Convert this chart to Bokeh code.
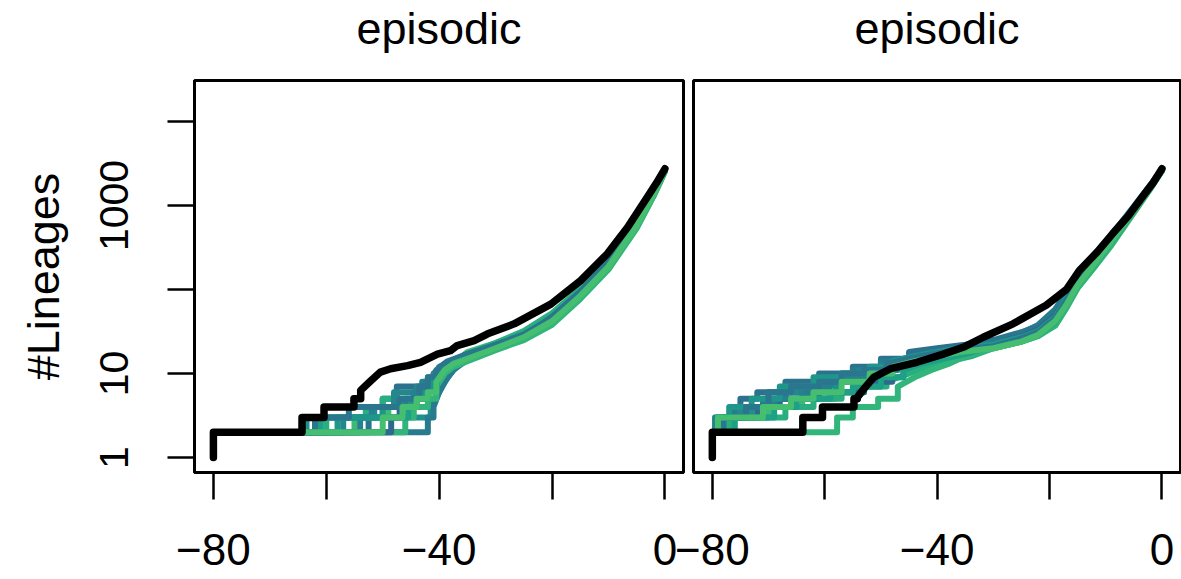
from bokeh.plotting import figure
from bokeh.layouts import row
from bokeh.models import FixedTicker
from bokeh.embed import file_html
from bokeh.resources import INLINE
from bokeh.palettes import Viridis256

# ---------------- data ----------------
panel_titles = ["episodic", "episodic"]
y_label = "#Lineages"
x_ticks = [-80, -60, -40, -20, 0]
x_tick_labels = ["\u221280", "", "\u221240", "", "0"]
y_ticks = [1, 10, 100, 1000, 10000]
y_tick_labels = ["1", "10", "", "1000", ""]

# left panel: observed (black) lineages-through-time
left_obs_t = [-80, -80, -64.3, -60.4, -55.1, -53.9, -52.1, -50.4, -48.6, -45.6, -43.3, -40.3, -38.0,
              -36.8, -33.8, -31.4, -26.7, -20.2, -14.9, -10.2, -6.6, -3.1, -1.5, 0]
left_obs_n = [1, 2, 3, 4, 5, 6.3, 8.2, 10.4, 11.4, 12.4, 13.6, 17, 18.7,
              21.5, 24.6, 29.7, 39, 67, 128, 266, 550, 1260, 1850, 2735]

# left panel: simulated lineages-through-time
left_sim_t = [
    [-80, -80, -52.5, -50, -47.5, -42, -40, -38, -35, -30, -25, -20, -15, -10, -5, -2, 0],
    [-80, -80, -63.5, -41.5, -40, -38.5, -37, -35, -30, -25, -20, -15, -10, -5, -2, 0],
    [-80, -80, -55, -49, -44, -42.5, -41, -39, -37, -35, -30, -25, -20, -15, -10, -5, -2, 0],
    [-80, -80, -42, -41, -40, -39, -37.5, -36, -35, -30, -25, -20, -15, -10, -5, -2, 0],
    [-80, -80, -60, -53, -50, -43, -41.5, -39.5, -37.5, -35, -30, -25, -20, -15, -10, -5, -2, 0],
    [-80, -80, -57, -51.5, -48, -44, -42, -40, -38, -35, -30, -25, -20, -15, -10, -5, -2, 0],
    [-80, -80, -46, -44.5, -42, -40.5, -39, -37.5, -35, -30, -25, -20, -15, -10, -5, -2, 0],
    [-80, -80, -48.5, -47, -45, -42, -40.5, -39, -37, -35, -30, -25, -20, -15, -10, -5, -2, 0],
    [-80, -80, -61, -45.5, -44, -42.5, -40.5, -38.5, -35, -30, -25, -20, -15, -10, -5, -2, 0],
    [-80, -80, -54, -52, -46, -44.5, -43, -41, -39, -35, -30, -25, -20, -15, -10, -5, -2, 0],
    [-80, -80, -58, -50, -45, -42.5, -41, -39.5, -38, -35, -30, -25, -20, -15, -10, -5, -2, 0],
    [-80, -80, -62, -56, -47, -43.5, -42, -40.5, -38.5, -35, -30, -25, -20, -15, -10, -5, -2, 0],
    [-80, -80, -50, -46.5, -44, -42, -40.5, -39, -37.5, -35, -30, -25, -20, -15, -10, -5, -2, 0],
]
left_sim_n = [
    [1, 2, 3, 5, 7, 8, 10, 13, 17, 22, 30, 46, 92, 205, 610, 1420, 2650],
    [1, 2, 3, 4, 6, 9, 12, 16, 21, 28, 42, 85, 190, 580, 1360, 2600],
    [1, 2, 3, 4, 5, 6, 8, 11, 14, 18, 23, 31, 49, 97, 220, 640, 1460, 2700],
    [1, 2, 3, 4, 6, 8, 11, 13, 15, 20, 26, 40, 80, 180, 550, 1310, 2550],
    [1, 2, 3, 4, 5, 6, 8, 11, 14, 17, 23, 32, 52, 102, 228, 655, 1490, 2700],
    [1, 2, 3, 4, 6, 7, 9, 12, 14, 16, 22, 29, 44, 88, 198, 595, 1390, 2620],
    [1, 2, 3, 4, 5, 7, 10, 12, 14, 19, 25, 38, 77, 173, 535, 1290, 2500],
    [1, 2, 3, 4, 5, 7, 9, 12, 15, 17, 21, 28, 47, 94, 208, 615, 1430, 2650],
    [1, 2, 3, 4, 5, 7, 10, 13, 15, 20, 27, 43, 86, 193, 585, 1370, 2600],
    [1, 2, 3, 4, 5, 6, 8, 10, 13, 16, 21, 29, 45, 90, 200, 605, 1410, 2640],
    [1, 2, 3, 4, 5, 6, 9, 12, 14, 16, 21, 28, 43, 87, 195, 590, 1380, 2620],
    [1, 2, 3, 4, 5, 7, 9, 11, 14, 17, 22, 29, 46, 91, 202, 605, 1410, 2640],
    [1, 2, 3, 4, 5, 6, 8, 11, 13, 15, 20, 27, 42, 84, 188, 575, 1350, 2600],
]

# right panel: observed (black)
right_obs_t = [-80, -80, -63.9, -60.4, -54.8, -54.2, -53.0, -51.3, -48.3, -43.6, -38.9, -35.0, -31.8,
               -26.5, -20.6, -17.0, -14.7, -11.5, -8.8, -6.0, -3.5, -1.6, 0]
right_obs_n = [1, 2, 3, 4, 5, 5.2, 6.6, 9, 11.4, 13.6, 17, 21, 27,
               39, 65, 100, 168, 280, 460, 750, 1260, 1850, 2735]

# right panel: simulated
right_sim_t = [
    [-80, -80, -78, -75, -72, -67, -61, -55, -50, -45, -40, -35, -30, -25, -22, -19, -17, -15, -12, -9, -5, -2, 0],
    [-80, -80, -79, -73, -66, -63, -58, -53, -48, -43, -38, -34, -30, -25, -22, -19, -17, -15, -12, -9, -5, -2, 0],
    [-80, -80, -79.5, -70, -64, -58, -54, -50, -46, -42, -37, -33, -30, -25, -22, -19, -17, -15, -12, -9, -5, -2, 0],
    [-80, -80, -78.5, -76, -71, -67, -63, -60, -55, -50, -45, -41, -36, -30, -25, -22, -19, -17, -15, -12, -9, -5, -2, 0],
    [-80, -80, -77, -67, -62, -57, -53, -49, -45, -42, -38, -34, -30, -25, -22, -19, -17, -15, -12, -9, -5, -2, 0],
    [-80, -80, -79, -75, -70, -65, -60, -56, -52, -47, -43, -39, -35, -30, -25, -22, -19, -17, -15, -12, -9, -5, -2, 0],
    [-80, -80, -57.8, -55, -50.5, -47, -44, -41, -38, -35, -30, -25, -22, -19, -17, -15, -12, -9, -5, -2, 0],
    [-80, -80, -79, -72, -68, -61, -53, -48, -44, -40, -36, -30, -25, -22, -19, -17, -15, -12, -9, -5, -2, 0],
    [-80, -80, -76, -69, -65, -59, -55, -50, -46, -43, -39, -35, -30, -25, -22, -19, -17, -15, -12, -9, -5, -2, 0],
    [-80, -80, -79.5, -74, -69, -64, -59, -54, -50, -46, -42, -38, -34, -30, -25, -22, -19, -17, -15, -12, -9, -5, -2, 0],
    [-80, -80, -79, -77, -73, -68, -62, -57, -52, -48, -44, -40, -36, -30, -25, -22, -19, -17, -15, -12, -9, -5, -2, 0],
    [-80, -80, -78, -74, -70, -66, -61, -57, -53, -49, -45, -41, -37, -30, -25, -22, -19, -17, -15, -12, -9, -5, -2, 0],
    [-80, -80, -79, -71, -66, -62, -57, -52, -48, -44, -40, -36, -30, -25, -22, -19, -17, -15, -12, -9, -5, -2, 0],
]
right_sim_n = [
    [1, 2, 3, 5, 6, 8, 10, 12, 15, 18, 20, 22, 25, 31, 37, 55, 85, 135, 235, 425, 950, 1750, 2700],
    [1, 2, 3, 4, 5, 6, 8, 10, 12, 15, 17, 19, 23, 28, 33, 48, 76, 124, 215, 395, 900, 1700, 2650],
    [1, 2, 3, 4, 5, 6, 7, 9, 12, 14, 16, 18, 21, 26, 30, 43, 68, 115, 205, 375, 870, 1650, 2620],
    [1, 2, 3, 4, 5, 6, 7, 9, 11, 14, 16, 18, 20, 24, 30, 38, 58, 92, 145, 245, 445, 980, 1780, 2700],
    [1, 2, 3, 4, 5, 6, 7, 8, 10, 12, 14, 16, 20, 24, 28, 38, 62, 106, 192, 352, 850, 1620, 2600],
    [1, 2, 3, 4, 6, 7, 8, 9, 11, 13, 16, 18, 20, 22, 28, 34, 52, 82, 130, 225, 405, 920, 1720, 2660],
    [1, 2, 3, 4, 5, 7, 9, 11, 13, 16, 20, 24, 28, 37, 60, 104, 185, 335, 820, 1600, 2580],
    [1, 2, 3, 4, 5, 6, 8, 11, 13, 15, 18, 23, 28, 34, 50, 79, 126, 220, 400, 910, 1710, 2650],
    [1, 2, 3, 4, 5, 6, 7, 9, 11, 13, 15, 17, 21, 25, 29, 41, 66, 112, 200, 365, 860, 1640, 2610],
    [1, 2, 3, 4, 5, 7, 9, 11, 13, 15, 17, 19, 21, 23, 27, 32, 46, 72, 118, 210, 385, 890, 1690, 2640],
    [1, 2, 3, 4, 5, 7, 9, 10, 12, 14, 16, 18, 20, 22, 27, 32, 47, 78, 128, 222, 402, 915, 1715, 2655],
    [1, 2, 3, 4, 6, 7, 8, 10, 11, 13, 15, 17, 19, 21, 26, 31, 45, 74, 122, 213, 392, 905, 1705, 2650],
    [1, 2, 3, 4, 5, 6, 8, 10, 12, 14, 16, 18, 20, 24, 29, 42, 66, 113, 203, 372, 872, 1660, 2625],
]

# ---------------- style ----------------
FONT = "Liberation Sans"
sim_color_idx = [95, 128, 175, 105, 160, 118, 168, 88, 145, 112, 135, 100, 180]
sim_colors = [Viridis256[i] for i in sim_color_idx]

X_RANGE = (-83.35, 3.3)
Y_RANGE = (0.663, 30760)
SHIFT_UP = 40  # figures are lifted so the titles can sit near the page top


def stair_path(t, n, split):
    xs, ys = [t[0]], [n[0]]
    for i in range(1, len(t)):
        if t[i - 1] <= split:
            xs.append(t[i])
            ys.append(n[i - 1])
        xs.append(t[i])
        ys.append(n[i])
    return xs, ys


def style_axis(ax):
    ax.axis_line_width = 2.5
    ax.axis_line_color = "black"
    ax.major_tick_line_width = 2.5
    ax.major_tick_line_color = "black"
    ax.major_tick_out = 27
    ax.major_tick_in = 0
    ax.minor_tick_line_color = None
    ax.major_label_text_font = FONT
    ax.major_label_text_color = "black"


def make_panel(title, obs_t, obs_n, sim_t, sim_n, sim_split, obs_split, width, left, right, show_y):
    p = figure(width=width, height=579 + SHIFT_UP, x_range=X_RANGE, y_range=Y_RANGE,
               y_axis_type="log", y_axis_location="left" if show_y else None,
               output_backend="svg", toolbar_location=None,
               min_border_left=left, min_border_right=right,
               min_border_top=80 + SHIFT_UP, min_border_bottom=107)
    p.grid.visible = False
    p.outline_line_color = "black"
    p.outline_line_width = 3
    p.outline_line_alpha = 1
    p.border_fill_color = None
    p.background_fill_color = "white"

    p.title.text = title
    p.title.align = "center"
    p.title.text_font = FONT
    p.title.text_font_size = "45px"
    p.title.text_font_style = "normal"
    p.title.text_color = "black"
    p.title.standoff = 53

    xa = p.xaxis[0]
    style_axis(xa)
    xa.ticker = FixedTicker(ticks=x_ticks)
    xa.major_label_overrides = dict(zip(x_ticks, x_tick_labels))
    xa.major_label_text_font_size = "44px"
    xa.major_label_standoff = 34

    if show_y:
        ya = p.yaxis[0]
        style_axis(ya)
        ya.ticker = FixedTicker(ticks=y_ticks)
        ya.major_label_overrides = dict(zip(y_ticks, y_tick_labels))
        ya.major_label_text_font_size = "41px"
        ya.major_label_orientation = "vertical"
        ya.major_label_standoff = 39
        ya.axis_label = y_label
        ya.axis_label_text_font = FONT
        ya.axis_label_text_font_size = "45px"
        ya.axis_label_text_font_style = "normal"
        ya.axis_label_text_color = "black"
        ya.axis_label_standoff = 29

    for k, (t, n) in enumerate(zip(sim_t, sim_n)):
        xs, ys = stair_path(t, n, sim_split)
        p.line(xs, ys, line_color=sim_colors[k % len(sim_colors)], line_width=6,
               line_join="round", line_cap="round")
    xs, ys = stair_path(obs_t, obs_n, obs_split)
    p.line(xs, ys, line_color="black", line_width=7.5, line_join="round", line_cap="round")
    return p


p1 = make_panel(panel_titles[0], left_obs_t, left_obs_n, left_sim_t, left_sim_n,
                -42, -55, 690, 194, 7, True)
p2 = make_panel(panel_titles[1], right_obs_t, right_obs_n, right_sim_t, right_sim_n,
                -50, -54.5, 541, 53, 1, False)
p1.margin = (-SHIFT_UP, 0, 0, 0)
p2.margin = (-SHIFT_UP, 0, 0, -50)

layout = row(p1, p2)
open("out.html", "w").write(file_html(layout, INLINE))
